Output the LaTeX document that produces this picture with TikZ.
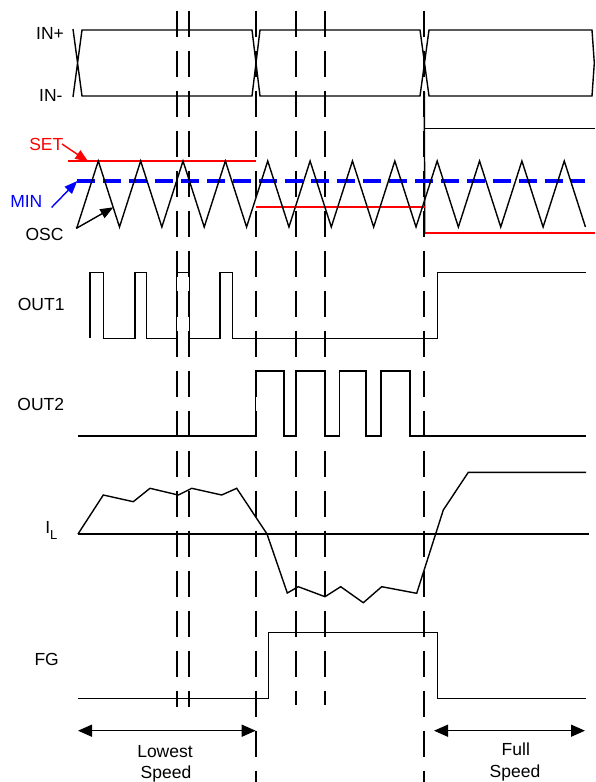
\documentclass[tikz,border=0pt]{standalone}
\usepackage{fontspec}
\setmainfont{Liberation Sans}
\usetikzlibrary{arrows.meta}
\begin{document}
\begin{tikzpicture}[x=1pt,y=-1pt,
  sig/.style={line width=1.4pt, line join=miter},
  vdash/.style={line width=1.7pt, dash pattern=on 26.7pt off 13.3pt},
  lbl/.style={inner sep=0pt, font=\fontsize{17.5}{21}\selectfont, anchor=base},
  redln/.style={red, line width=1.5pt},
  ptr/.style={line width=1.4pt, -{Triangle[length=13pt,width=10pt]}},
  spanarrow/.style={line width=1.4pt, {Triangle[length=14pt,width=12pt]}-{Triangle[length=14pt,width=12pt]}}
]
\useasboundingbox (0,0) rectangle (595,782);

% dashed time markers
\foreach \x/\yb in {177/707, 189/707, 296/705, 325/705, 255.7/782, 424.3/782}
  \draw[vdash] (\x,10.5) -- (\x,\yb);

% IN+/IN- bus
\draw[sig] (73,29) -- (82,96) -- (252,96) -- (260,30) -- (420,30) -- (429,96)
  -- (592,96) -- (594.3,63) -- (592,30) -- (429,30) -- (420,96) -- (260,96)
  -- (252,30) -- (82,30) -- (73,97);

% black step at full speed
\draw[sig] (424.3,92) -- (424.8,234);
\draw[sig] (424.3,128.5) -- (595,128.5);

% SET levels (red)
\draw[redln] (68,161) -- (255.7,161);
\draw[redln] (255.7,207) -- (425,207);
\draw[redln] (425,233) -- (595,233);

% MIN level (blue dashed)
\coordinate (minend) at (77.3,181);
\draw[blue, line width=3.2pt, dash pattern=on 18pt off 8pt] (minend) -- (585,181);

% oscillator triangle
\coordinate (oscstart) at (77.1,227);
\draw[line width=1.4pt] (oscstart)
  \foreach \k in {0,...,11} { -- ({98.3+42.36*\k},161) -- ({119.5+42.36*\k},227) };

% labels
\node[lbl] (inp) at (50,39.3) {IN+};
\node[lbl] (inm) at (50.8,101.7) {IN-};
\node[lbl, text=red] (set) at (46.3,150) {SET};
\node[lbl, text=blue] (min) at (26.3,207.3) {MIN};
\node[lbl] (osc) at (44.5,240) {OSC};
\node[lbl] (out1) at (41.2,310.7) {OUT1};
\node[lbl] (out2) at (40.8,410.7) {OUT2};
\node[lbl, anchor=base west] (il) at (45.1,533.3) {I\raisebox{-6pt}{\fontsize{13}{15}\selectfont L}};
\node[lbl] (fg) at (46.7,665) {FG};
\node[lbl] (lowest) at (165,757.7) {Lowest};
\node[lbl] (lspeed) at (166,778) {Speed};
\node[lbl] (full) at (515.8,755.7) {Full};
\node[lbl] (fspeed) at (515,777) {Speed};

% label pointers
\coordinate (settip) at (88.3,161.7);
\coordinate (osctip) at (113.3,207.3);
\draw[ptr, red] ([xshift=-1.5pt]set.east) -- (settip);
\draw[ptr, blue] ([xshift=9pt]min.south east) -- (minend);
\draw[ptr] ([xshift=12.6pt,yshift=-0.8pt]osc.north east) -- (osctip);
\draw[line width=1.4pt] ([xshift=12.6pt,yshift=-0.8pt]osc.north east) -- (oscstart);

% OUT1
\draw[sig] (90,338.3) -- (90,272.7) -- (103.3,272.7) -- (103.3,338.3) -- (135,338.3)
  -- (135,272.7) -- (146.7,272.7) -- (146.7,338.3) -- (176.7,338.3) -- (176.7,272.7)
  -- (189.3,272.7) -- (189.3,338.3) -- (220,338.3) -- (220,272.7) -- (232.7,272.7)
  -- (232.7,338.3) -- (437.3,338.3) -- (437.3,272.7) -- (586,272.7);

% OUT2
\draw[sig] (78,436) -- (255.7,436) -- (255.7,371) -- (284,371) -- (284,436) -- (296,436)
  -- (296,371) -- (325,371) -- (325,436) -- (339.3,436) -- (339.3,371) -- (366,371)
  -- (366,436) -- (381,436) -- (381,371) -- (410,371) -- (410,436) -- (586,436);

% I_L
\draw[sig] (77.7,534) -- (589.3,534);
\draw[sig] (78,534) -- (103.3,495) -- (133.3,501.7) -- (150,488.3) -- (178.3,495)
  -- (191.7,488.3) -- (221.7,495) -- (236.7,488.3) -- (267,534) -- (287.3,593)
  -- (298.3,586.7) -- (325,596.7) -- (340.7,586.7) -- (363.3,602.7) -- (381.7,586.7)
  -- (416.7,593.3) -- (443.3,510) -- (468.3,472.3) -- (586,472.3);

% FG
\draw[sig] (77.7,698.3) -- (268.3,698.3) -- (268.3,632.7) -- (437.7,632.7)
  -- (437.7,698.3) -- (586,698.3);

% speed spans
\coordinate (lsa) at (78,730.7);
\coordinate (lsb) at (255.7,730.7);
\coordinate (fsa) at (434,730.7);
\coordinate (fsb) at (585,730.7);
\draw[spanarrow] (lsa) -- (lsb);
\draw[spanarrow] (fsa) -- (fsb);
\end{tikzpicture}
\end{document}
